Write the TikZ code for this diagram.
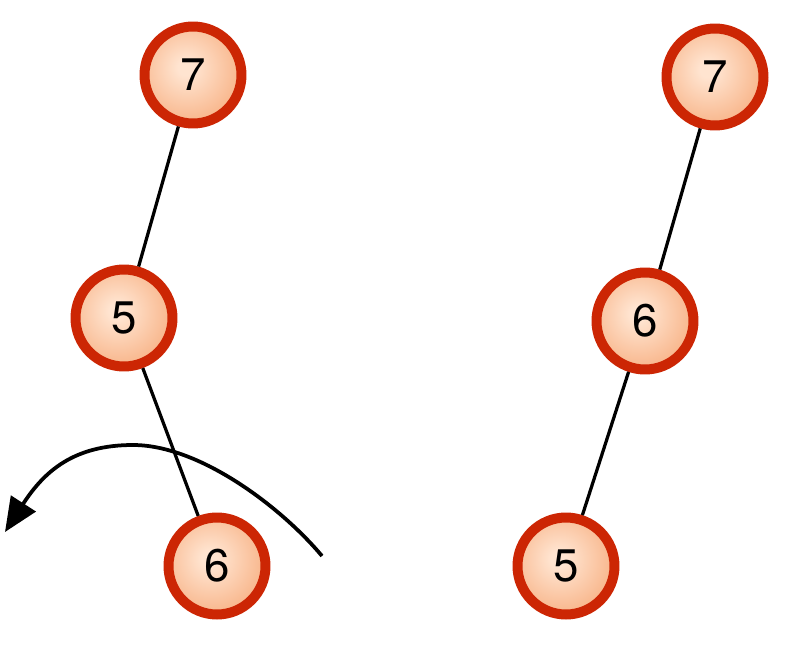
\documentclass[tikz,border=0pt]{standalone}
\usepackage{fontspec}
\setsansfont{TeX Gyre Heros}
\usetikzlibrary{arrows.meta}
\definecolor{ringred}{HTML}{CC2604}
\definecolor{ballout}{HTML}{F28E50}
\definecolor{ballin}{HTML}{FFE4D0}
\pgfdeclareradialshading{ball}{\pgfpoint{-4bp}{4bp}}{color(0bp)=(ballin); color(4bp)=(ballin); color(48bp)=(ballout); color(100bp)=(ballout)}
\tikzset{
  key/.style={circle,draw=ringred,line width=0.2cm,shading=ball,minimum size=1.94cm,inner sep=0pt,
    font=\sffamily\fontsize{26}{30}\selectfont},
  link/.style={line width=0.065cm}
}
\begin{document}
\begin{tikzpicture}[x=0.02cm,y=-0.02cm]
\useasboundingbox (0,0) rectangle (809,646);

% before the rotation
\node[key] (l7) at (193,75) {7};
\node[key] (l5) at (124,318) {5};
\node[key] (l6) at (217,566) {6};
\draw[link] (l7) -- (l5);
\draw[link] (l5) -- (l6);

\coordinate (rotfrom) at (322,556);
\coordinate (rottop) at (133,445);
\coordinate (rotto) at (5,532);
\draw[line width=0.075cm,-{Triangle[length=0.68cm,width=0.58cm]}] (rotfrom) .. controls (282,508) and (200,445) .. (rottop)
  .. controls (75,445) and (45,470) .. (rotto);

% after the rotation
\node[key] (r7) at (715,77) {7};
\node[key] (r6) at (645,321) {6};
\node[key] (r5) at (566,566) {5};
\draw[link] (r7) -- (r6);
\draw[link] (r6) -- (r5);

\end{tikzpicture}
\end{document}
